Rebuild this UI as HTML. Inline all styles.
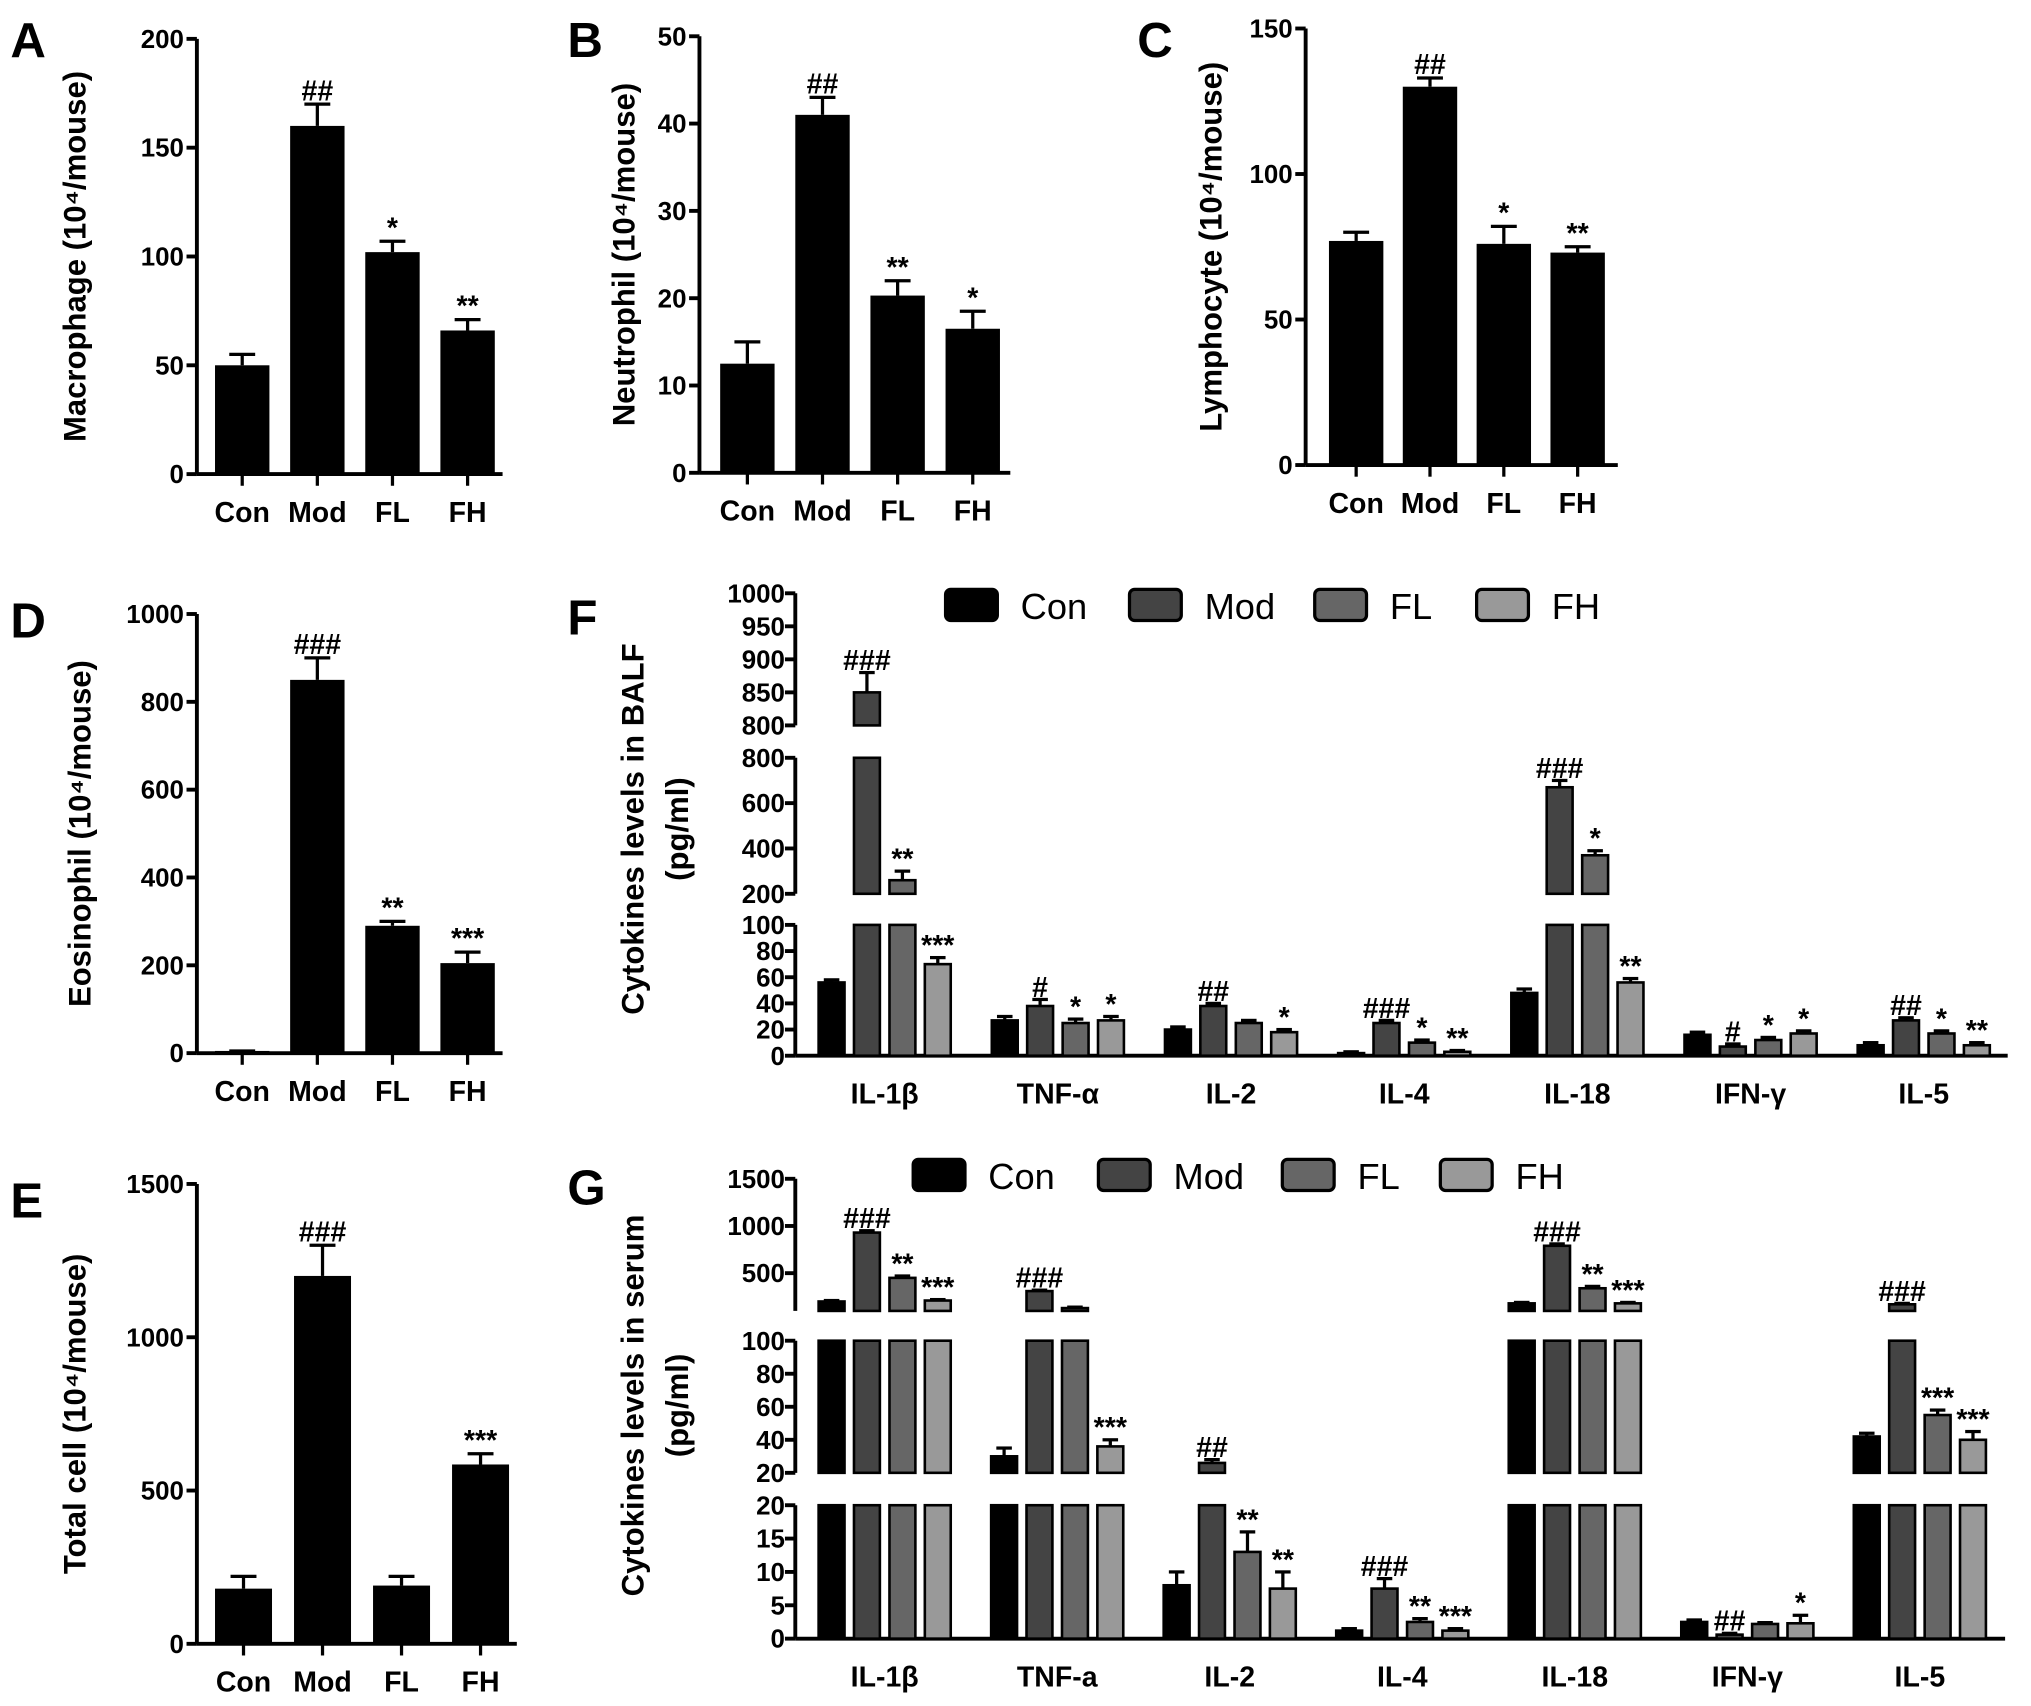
<!DOCTYPE html>
<html><head><meta charset="utf-8"><style>
html,body{margin:0;padding:0;background:#fff;}
svg{display:block;}
text{font-family:"Liberation Sans",Arial,sans-serif;font-weight:bold;fill:#000;}
</style></head><body>
<svg id="fig" width="2031" height="1706" viewBox="0 0 1568 1317" preserveAspectRatio="none" xmlns="http://www.w3.org/2000/svg"></svg>
<script>
// ---- Data ----
const groups = ["Con","Mod","FL","FH"];
const aVals = [50,160,102,66];     const aErr = [55,170,107,71];   const aAnn = ["","##","*","**"];
const bVals = [12.5,41,20.3,16.5]; const bErr = [15,43,22,18.5];   const bAnn = ["","##","**","*"];
const cVals = [77,130,76,73];      const cErr = [80,133,82,75];    const cAnn = ["","##","*","**"];
const dVals = [5,850,290,205];     const dErr = [5,900,300,230];   const dAnn = ["","###","**","***"];
const eVals = [180,1200,190,585];  const eErr = [220,1300,220,620]; const eAnn = ["","###","","***"];
const aTicks = [0,50,100,150,200];
const bTicks = [0,10,20,30,40,50];
const cTicks = [0,50,100,150];
const dTicks = [0,200,400,600,800,1000];
const eTicks = [0,500,1000,1500];

const fCats = ["IL-1β","TNF-α","IL-2","IL-4","IL-18","IFN-γ","IL-5"];
const fCon = [56,27,20,2,48,16,8];
const fMod = [850,38,38,25,670,7,27];
const fFL  = [260,25,25,10,370,12,17];
const fFH  = [70,27,18,3,56,17,8];
const fConErr = [58,30,22,3,51,18,10];
const fModErr = [880,43,40,27,700,9,29];
const fFLErr  = [300,28,27,12,390,14,19];
const fFHErr  = [75,30,20,4,59,19,10];
const fModAnn = ["###","#","##","###","###","#","##"];
const fFLAnn  = ["**","*","","*","*","*","*"];
const fFHAnn  = ["***","*","*","**","**","*","**"];
const fSegTicks = [[0,20,40,60,80,100],[200,400,600,800],[800,850,900,950,1000]];

const gCats = ["IL-1β","TNF-a","IL-2","IL-4","IL-18","IFN-γ","IL-5"];
const gCon = [200,30,8,1.2,180,2.5,42];
const gMod = [930,310,26,7.5,790,0.6,170];
const gFL  = [450,130,13,2.5,340,2.2,55];
const gFH  = [210,36,7.5,1.2,180,2.3,40];
const gConErr = [210,35,10,1.5,190,2.8,44];
const gModErr = [950,320,28,9,810,0.8,180];
const gFLErr  = [470,140,16,3,360,2.4,58];
const gFHErr  = [220,40,10,1.5,190,3.5,45];
const gModAnn = ["###","###","##","###","###","##","###"];
const gFLAnn  = ["**","","**","**","**","","***"];
const gFHAnn  = ["***","***","**","***","***","*","***"];
const gSegTicks = [[0,5,10,15,20],[20,40,60,80,100],[500,1000,1500]];

// ---- helpers ----
const svg = document.getElementById('fig');
const NS = "http://www.w3.org/2000/svg";
function el(tag, attrs, parent){
  const e = document.createElementNS(NS, tag);
  for (const k in attrs) e.setAttribute(k, attrs[k]);
  (parent||svg).appendChild(e);
  return e;
}
function txt(s, x, y, size, anchor, parent, rot){
  const t = el('text', {x:x, y:y, 'font-size':size, 'text-anchor':anchor||'middle'}, parent);
  if (rot) t.setAttribute('transform', 'rotate(-90 '+x+' '+y+')');
  t.textContent = s;
  return t;
}
const colors = ["#000","#444","#666","#999"];

// ---- simple panels ----
function simplePanel(p){
  const g = el('g', {});
  
  
  const y = v => p.y0 - (v / p.max) * (p.y0 - p.y1);
  const xc = i => p.ax + p.off + p.sp * i;
  const ax = el('line', {x1:p.ax, y1:p.y1, x2:p.ax, y2:p.y0, stroke:'#000','stroke-width':3}, g);
  
  
  const xa = el('line', {x1:p.ax, y1:p.y0, x2:xc(3)+p.off-8, y2:p.y0, stroke:'#000','stroke-width':3}, g);
  
  
  p.ticks.forEach(t => {
    el('line', {x1:p.ax-8, y1:y(t), x2:p.ax, y2:y(t), stroke:'#000','stroke-width':3}, g);
    const tl = txt(String(t), p.ax-10, y(t)+7, 20, 'end', g);
    
    
  });
  p.vals.forEach((v, i) => {
    const c = xc(i);
    const r = el('rect', {x:c-p.bw/2, y:y(v), width:p.bw, height:Math.max(1,p.y0-y(v)), fill:'#000'}, g);
    
    
    el('line', {x1:c, y1:y(v), x2:c, y2:y(p.errs[i]), stroke:'#000','stroke-width':2.5}, g);
    el('line', {x1:c-10, y1:y(p.errs[i]), x2:c+10, y2:y(p.errs[i]), stroke:'#000','stroke-width':2.5}, g);
    if (p.ann[i]) {
      const a = txt(p.ann[i], c, y(p.errs[i]) - 3, 22, 'middle', g);
      
      
    }
    el('line', {x1:c, y1:p.y0, x2:c, y2:p.y0+9, stroke:'#000','stroke-width':2.5}, g);
    const cl = txt(groups[i], c, p.y0+37, 22, 'middle', g);
    
    
  });
  const yl = txt(p.label, p.lx, (p.y0+p.y1)/2, 24, 'middle', g, true);
  
  
  const L = txt(p.letter, p.lettX, p.lettY, 38, 'start', g);
  
  
}
function lbl(name){ return name + ' (10⁴/mouse)'; }
simplePanel({name:'panel-a-macrophage', ax:152, y0:366, y1:30, max:200, ticks:aTicks, vals:aVals, errs:aErr, ann:aAnn, off:35, sp:58, bw:42, label:lbl('Macrophage'), lx:66, letter:'A', lettX:8, lettY:44});
simplePanel({name:'panel-b-neutrophil', ax:540, y0:365, y1:28, max:50, ticks:bTicks, vals:bVals, errs:bErr, ann:bAnn, off:37, sp:58, bw:42, label:lbl('Neutrophil'), lx:490, letter:'B', lettX:438, lettY:44});
simplePanel({name:'panel-c-lymphocyte', ax:1008, y0:359, y1:22, max:150, ticks:cTicks, vals:cVals, errs:cErr, ann:cAnn, off:39, sp:57, bw:42, label:lbl('Lymphocyte'), lx:943, letter:'C', lettX:878, lettY:44});
simplePanel({name:'panel-d-eosinophil', ax:152, y0:813, y1:474, max:1000, ticks:dTicks, vals:dVals, errs:dErr, ann:dAnn, off:35, sp:58, bw:42, label:lbl('Eosinophil'), lx:70, letter:'D', lettX:8, lettY:492});
simplePanel({name:'panel-e-total-cell', ax:152, y0:1269, y1:914, max:1500, ticks:eTicks, vals:eVals, errs:eErr, ann:eAnn, off:36, sp:61, bw:44, label:lbl('Total cell'), lx:66, letter:'E', lettX:8, lettY:940});

// ---- broken-axis panels ----
function brokenPanel(p){
  const g = el('g', {});
  
  
  const segs = p.segs;
  function segY(s, v){ return s.yb - (v - s.lo) / (s.hi - s.lo) * (s.yb - s.yt); }
  function segOf(v){ for (let k = segs.length-1; k >= 0; k--) if (v > segs[k].lo) return segs[k]; return segs[0]; }
  segs.forEach((s, k) => {
    el('line', {x1:p.ax, y1:s.yt, x2:p.ax, y2:s.yb, stroke:'#000','stroke-width':3}, g);
    p.segTicks[k].forEach(t => {
      el('line', {x1:p.ax-8, y1:segY(s,t), x2:p.ax, y2:segY(s,t), stroke:'#000','stroke-width':3}, g);
      const tl = txt(String(t), p.ax-8, segY(s,t)+7, 20, 'end', g);
      
      
    });
  });
  const y0 = segs[0].yb;
  const xa = el('line', {x1:p.ax, y1:y0, x2:p.xEnd, y2:y0, stroke:'#000','stroke-width':3}, g);
  
  
  const offs = [-41,-13.7,13.7,41];
  p.cats.forEach((cat, ci) => {
    const cx = p.c0 + p.csp * ci;
    const cl = txt(cat, cx, y0 + 37, 22, 'middle', g);
    
    
    p.series.forEach((ser, si) => {
      const v = ser.vals[ci], e = ser.errs[ci];
      const bx = cx + offs[si];
      segs.forEach(s => {
        if (v > s.lo) {
          const top = Math.min(v, s.hi);
          const r = el('rect', {x:bx-10, y:segY(s,top), width:20, height:Math.max(1,s.yb-segY(s,top)), fill:colors[si], stroke:'#000','stroke-width':2}, g);
          
          
        }
      });
      const s = segOf(v);
      const ey = segY(s, Math.min(e, s.hi));
      el('line', {x1:bx, y1:segY(s, Math.min(v,s.hi)), x2:bx, y2:ey, stroke:'#000','stroke-width':2.5}, g);
      el('line', {x1:bx-6, y1:ey, x2:bx+6, y2:ey, stroke:'#000','stroke-width':2.5}, g);
      if (ser.ann && ser.ann[ci]) {
        const a = txt(ser.ann[ci], bx, ey - 2, 22, 'middle', g);
        
        
      }
    });
  });
  const lg = el('g', {}, g);
  
  
  groups.forEach((nm, i) => {
    const r = el('rect', {x:p.legX[i], y:p.legY-12, width:40, height:24, rx:4, fill:colors[i], stroke:'#000','stroke-width':2.5}, lg);
    
    
    const t = txt(nm, p.legX[i] + 58, p.legY + 11, 28, 'start', lg);
    t.style.fontWeight = 'normal';
    
    
  });
  const yl = txt(p.label, p.lx, p.ly, 24, 'middle', g, true);
  
  
  const yl2 = txt('(pg/ml)', p.lx + 34, p.ly2, 24, 'middle', g, true);
  
  
  const L = txt(p.letter, p.lettX, p.lettY, 38, 'start', g);
  
  
}
brokenPanel({name:'panel-f-cytokines-balf', ax:614, xEnd:1550, c0:683, csp:133.7, cats:fCats,
  segs:[{lo:0,hi:100,yb:815,yt:714},{lo:200,hi:800,yb:690,yt:585},{lo:800,hi:1000,yb:560,yt:458}],
  segTicks:fSegTicks,
  series:[{vals:fCon,errs:fConErr},{vals:fMod,errs:fModErr,ann:fModAnn},{vals:fFL,errs:fFLErr,ann:fFLAnn},{vals:fFH,errs:fFHErr,ann:fFHAnn}],
  legX:[730,872,1015,1140], legY:467, label:'Cytokines levels in BALF', lx:497, ly:640, ly2:640, letter:'F', lettX:438, lettY:490});
brokenPanel({name:'panel-g-cytokines-serum', ax:614, xEnd:1548, c0:683, csp:133.2, cats:gCats,
  segs:[{lo:0,hi:20,yb:1265,yt:1162},{lo:20,hi:100,yb:1137,yt:1035},{lo:100,hi:1500,yb:1012,yt:910}],
  segTicks:gSegTicks,
  series:[{vals:gCon,errs:gConErr},{vals:gMod,errs:gModErr,ann:gModAnn},{vals:gFL,errs:gFLErr,ann:gFLAnn},{vals:gFH,errs:gFHErr,ann:gFHAnn}],
  legX:[705,848,990,1112], legY:907, label:'Cytokines levels in serum', lx:497, ly:1085, ly2:1085, letter:'G', lettX:438, lettY:930});
</script>
</body></html>
